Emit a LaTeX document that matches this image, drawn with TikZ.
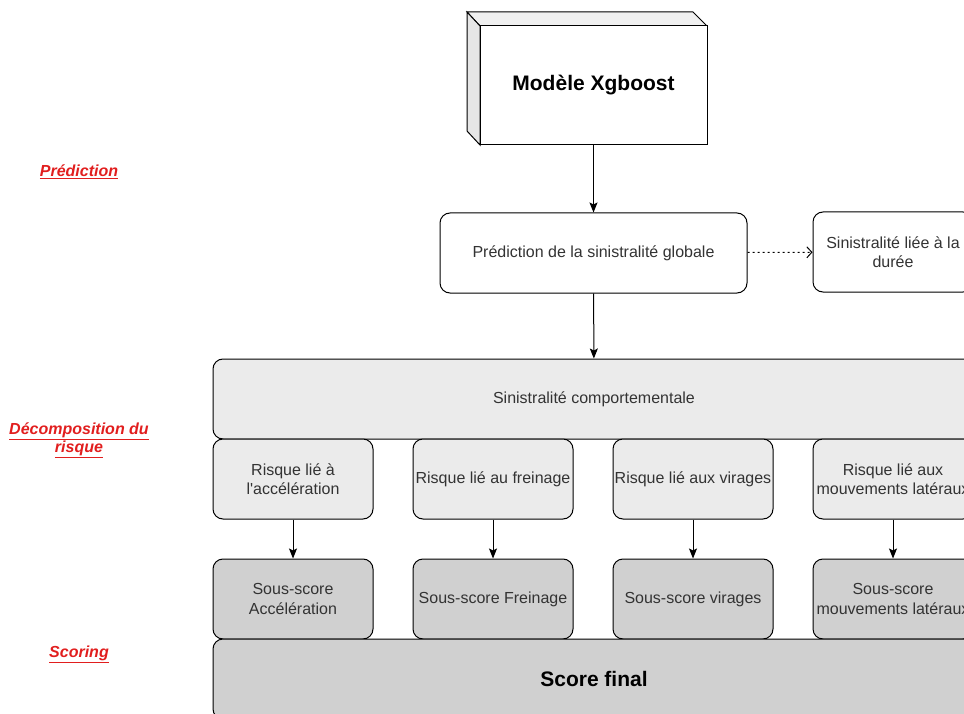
\documentclass[tikz,border=0pt]{standalone}
\usepackage{fontspec}
\setmainfont{Liberation Sans}
\usetikzlibrary{arrows.meta}
\definecolor{sidefill}{RGB}{230, 230, 230}
\definecolor{topfill}{RGB}{240, 240, 240}
\definecolor{riskfill}{RGB}{235, 235, 235}
\definecolor{scorefill}{RGB}{208, 208, 208}
\definecolor{steplabel}{RGB}{225, 30, 30}
\tikzset{
    every node/.style={font=\fontsize{16}{19.5}\selectfont, text=black!80},
    box/.style={draw, line width=1pt, rounded corners=10pt, align=center,
        minimum width=160pt, minimum height=80pt, inner sep=1pt},
    riskbox/.style={box, fill=riskfill},
    subbox/.style={box, fill=scorefill},
    phase/.style={text=steplabel, align=center,
        font=\fontsize{16}{18}\selectfont\bfseries\itshape},
    flow/.style={line width=1pt, -{Stealth[length=10pt, width=8pt, inset=2pt]}},
}

\begin{document}
\begin{tikzpicture}[x=1pt, y=-1pt]
    \clip (0, 0) rectangle (964, 714);
    % modele en 3D
    \draw[line width=1pt, fill=topfill] (467, 12) -- (693, 12) -- (707, 26)
        -- (480, 26) -- cycle;
    \draw[line width=1pt, fill=sidefill] (467, 12) -- (480, 26) -- (480, 145)
        -- (467, 131) -- cycle;
    \node[draw, line width=1pt, fill=white, minimum width=227pt,
        minimum height=119pt, inner sep=0pt, text=black,
        font=\fontsize{21}{24}\selectfont\bfseries] (xgb) at (593.5, 85.5)
        {Modèle Xgboost};

    % prediction
    \node[box, fill=white, minimum width=307pt] (globale) at (593.5, 253)
        {Prédiction de la sinistralité globale};
    \node[box, fill=white] (duree) at (893, 252)
        {Sinistralité liée à la\\durée};
    \draw[flow] (xgb) -- (globale);
    \draw[line width=1pt, dash pattern=on 2pt off 3pt,
        -{Straight Barb[length=5pt, width=11pt]}] (globale) -- (duree);

    % decomposition
    \node[riskbox, minimum width=762pt] (compo) at (594, 399)
        {Sinistralité comportementale};
    \draw[flow] (globale) -- (compo);
    \node[riskbox] (acc) at (293, 479)
        {Risque lié à\\l\textquotesingle accélération};
    \node[riskbox] (frein) at (493, 479) {Risque lié au freinage};
    \node[riskbox] (vir) at (693, 479) {Risque lié aux virages};
    \node[riskbox] (lat) at (893, 479) {Risque lié aux\\mouvements latéraux};

    % scoring
    \node[subbox] (sacc) at (293, 599) {Sous-score\\Accélération};
    \node[subbox] (sfrein) at (493, 599) {Sous-score Freinage};
    \node[subbox] (svir) at (693, 599) {Sous-score virages};
    \node[subbox] (slat) at (893, 599) {Sous-score\\mouvements latéraux};
    \foreach \r/\s in {acc/sacc, frein/sfrein, vir/svir, lat/slat}
        \draw[flow] (\r) -- (\s);
    \node[subbox, minimum width=762pt, text=black,
        font=\fontsize{21}{24}\selectfont\bfseries]
        (final) at (594, 679) {Score final};

    % etapes
    \node[phase] (pred) at (79, 172) {\underline{Prédiction}};
    \node[phase] (decomp) at (79, 440)
        {\underline{Décomposition du}\\\underline{risque}};
    \node[phase] (scoring) at (79, 654) {\underline{Scoring}};
\end{tikzpicture}
\end{document}
